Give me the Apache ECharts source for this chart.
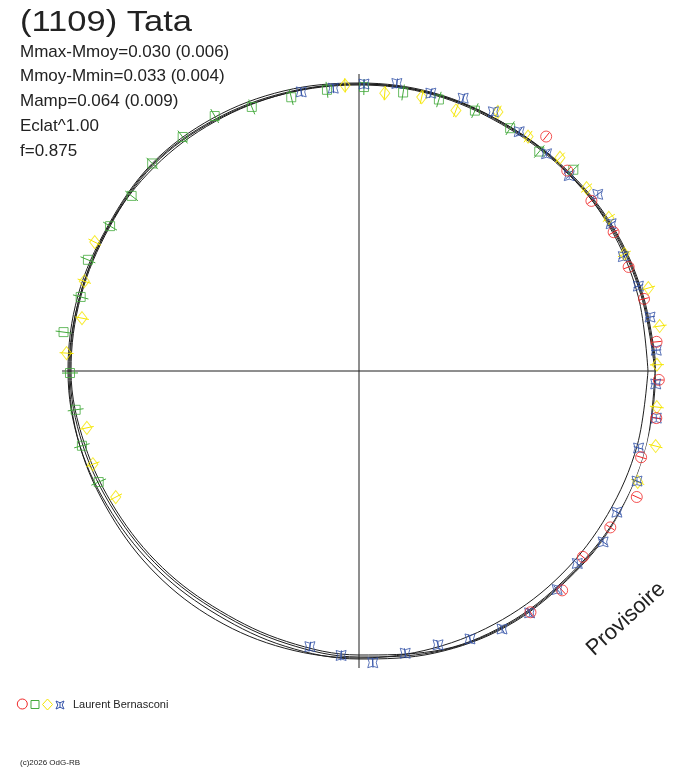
<!DOCTYPE html>
<html>
<head>
<meta charset="utf-8">
<script src="https://cdn.jsdelivr.net/npm/echarts@6/dist/echarts.min.js"></script>
<style>
html,body{margin:0;padding:0;background:#fff;}
#chart{width:688px;height:768px;}
</style>
</head>
<body>
<div id="chart"></div>
<script>
// Phase angle (deg) of fitted curves and their radii (relative flux units, 297 = plot edge)
const fitAngles = [0,15,30,45,60,75,90,105,120,135,150,165,180,195,210,225,240,255,270,285,300,315,330,345,360];
const fitMain  = [297,293,291,288,286,287,287,288,290,292,289,289,289,286,282,280,279,282,286,291,294,294,297,298,297];
const fitHigh  = [298,294,292,289,287,288,288,290,292,293,290,291,291,289,285,283,282,285,288,292,295,295,298,299,298];
const fitLow   = [296,292,290,287,285,286,286,287,289,291,288,288,288,284,280,278,277,280,284,290,293,293,296,297,296];
const fitThin  = [289,289,289,288,287,287,287,287,288,289,289,289,290,289,287,287,287,287,287,287,287,287,287,288,289];

// Observations [radius, phase angle deg]
const redPoints = [[300,51.4],[289,43.9],[288,36.2],[290,28.6],[289,21.1],[294,14.2],[299,5.6],[300,358.3],[301,351.0],[295,343.0],[305,335.6],[296,328.1],[291,320.3],[299,312.8],[296,305.4]];
const greenPoints = [[282,103.9],[283,96.5],[284,89.0],[282,81.0],[283,73.6],[285,66.0],[286,58.1],[284,50.6],[294,43.2],[285,112.1],[293,119.5],[293,127.0],[293,134.9],[287,142.4],[288,149.8],[293,157.7],[288,165.1],[298,172.5],[289,180.4],[286,187.8],[287,195.1],[283,203.1]];
const yellowPoints = [[286,92.8],[279,84.7],[281,77.1],[278,69.6],[294,61.8],[289,54.2],[293,46.7],[292,38.8],[293,31.5],[290,23.8],[301,16.0],[304,8.5],[298,1.2],[300,353.1],[306,345.8],[300,338.3],[294,154.0],[289,161.9],[282,169.2],[293,176.5],[278,191.8],[282,199.3],[274,207.4]];
const bluePoints = [[285,101.7],[284,95.2],[287,89.0],[290,82.5],[287,75.5],[292,69.1],[292,62.6],[288,56.2],[287,49.2],[287,42.9],[297,36.5],[292,30.3],[288,23.4],[292,16.9],[296,10.5],[298,4.0],[297,357.5],[301,351.0],[290,344.6],[299,338.4],[294,331.3],[298,325.0],[291,318.6],[295,312.2],[296,305.2],[295,299.0],[290,292.5],[285,286.1],[286,279.3],[292,272.7],[285,266.4],[280,259.9]];
// typical error half-widths per session
const redErr = 5, greenErr = 8, yellowErr = 7, blueErr = 5;

const statLines = ['Mmax-Mmoy=0.030 (0.006)','Mmoy-Mmin=0.033 (0.004)','Mamp=0.064 (0.009)','Eclat^1.00','f=0.875'];
const titleText = '(1109) Tata';
const observer = 'Laurent Bernasconi';

const COL = {red:'#f02828', green:'#44aa3c', yellow:'#f5e600', blue:'#3352a8', line:'#1e1e1e'};
const starPath = 'path://M0,0 Q5,3 10,0 Q7,5 10,10 Q5,7 0,10 Q3,5 0,0 Z M5,2 L5,8';

function curve(fit){
  return {type:'line', coordinateSystem:'polar', data: fitAngles.map((a,i)=>[fit[i], a]),
    symbol:'none', smooth:0.35, clip:false, silent:true, z:1,
    lineStyle:{color:COL.line, width:1}};
}
function errBars(pts, err, color){
  return {type:'custom', coordinateSystem:'polar', clip:false, silent:true, z:2,
    data: pts.map(p=>[p[0], p[1], err]),
    renderItem:function(params, api){
      const r = api.value(0), a = api.value(1), e = api.value(2);
      const p1 = api.coord([r-e, a]), p2 = api.coord([r+e, a]);
      return {type:'line', shape:{x1:p1[0], y1:p1[1], x2:p2[0], y2:p2[1]}, style:{stroke:color, lineWidth:1}};
    }};
}
function marks(name, pts, symbol, size, color){
  return {name:name, type:'scatter', coordinateSystem:'polar', data:pts, symbol:symbol, symbolSize:size,
    clip:false, silent:true, z:3,
    itemStyle:{color:'rgba(0,0,0,0)', borderColor:color, borderWidth:1}};
}

const chart = echarts.init(document.getElementById('chart'), null, {renderer:'canvas'});
const graphics = [
  {type:'text', x:20, y:23, scaleX:1.19, style:{text:titleText, font:'29px "Liberation Sans", Arial, sans-serif', fill:'#222', textVerticalAlign:'middle'}},
  {type:'text', x:626, y:619, rotation:0.742, style:{text:'Provisoire', font:'22px "Liberation Sans", Arial, sans-serif', fill:'#222', textAlign:'center', textVerticalAlign:'middle'}},
  {type:'circle', shape:{cx:22.3, cy:704, r:5}, style:{fill:'none', stroke:COL.red, lineWidth:1}},
  {type:'rect', shape:{x:31, y:700.5, width:8, height:8}, style:{fill:'none', stroke:COL.green, lineWidth:1}},
  {type:'polygon', shape:{points:[[47.5,699],[52.5,704.5],[47.5,710],[42.5,704.5]]}, style:{fill:'none', stroke:COL.yellow, lineWidth:1}},
  {type:'polygon', shape:{points:[[56,701],[60,702.8],[64,701],[62.2,705],[64,709],[60,707.2],[56,709],[57.8,705]]}, style:{fill:'none', stroke:COL.blue, lineWidth:1}},
  {type:'line', shape:{x1:60, y1:702.8, x2:60, y2:707.2}, style:{stroke:COL.blue, lineWidth:1}},
  {type:'text', x:73, y:705, style:{text:observer, font:'11px "Liberation Sans", Arial, sans-serif', fill:'#222', textVerticalAlign:'middle'}},
  {type:'text', x:20, y:763, style:{text:'(c)2026 OdG-RB', font:'8px "Liberation Sans", Arial, sans-serif', fill:'#222', textVerticalAlign:'middle'}}
];
statLines.forEach((t,i)=>{
  graphics.push({type:'text', x:20, y:52 + i*24.8, style:{text:t, font:'17px "Liberation Sans", Arial, sans-serif', fill:'#222', textVerticalAlign:'middle'}});
});

chart.setOption({
  animation:false,
  backgroundColor:'#fff',
  polar:{center:[359,371], radius:297},
  angleAxis:{type:'value', min:0, max:360, interval:90, startAngle:0, clockwise:false,
    axisLine:{show:false}, axisTick:{show:false}, axisLabel:{show:false},
    splitLine:{show:true, lineStyle:{color:COL.line, width:1}}},
  radiusAxis:{type:'value', min:0, max:297, axisLine:{show:false}, axisTick:{show:false}, axisLabel:{show:false}, splitLine:{show:false}},
  graphic:graphics,
  series:[
    curve(fitThin), curve(fitLow), curve(fitMain), curve(fitHigh),
    errBars(greenPoints, greenErr, COL.green),
    errBars(yellowPoints, yellowErr, COL.yellow),
    errBars(bluePoints, blueErr, COL.blue),
    errBars(redPoints, redErr, COL.red),
    marks('green', greenPoints, 'rect', 9, COL.green),
    marks('yellow', yellowPoints, 'diamond', [10,13], COL.yellow),
    marks('blue', bluePoints, starPath, 10, COL.blue),
    marks('red', redPoints, 'circle', 11, COL.red)
  ]
});
</script>
</body>
</html>
